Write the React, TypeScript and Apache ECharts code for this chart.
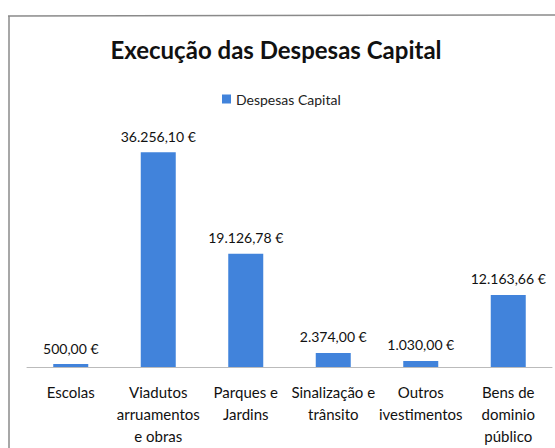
import React, { useEffect, useRef } from "react";
import * as echarts from "echarts";

const categories = [
  "Escolas",
  "Viadutos\narruamentos\ne obras",
  "Parques e\nJardins",
  "Sinalização e\ntrânsito",
  "Outros\nivestimentos",
  "Bens de\ndominio\npúblico",
];
const values = [500.0, 36256.1, 19126.78, 2374.0, 1030.0, 12163.66];
const seriesName = "Despesas Capital";
const titleText = "Execução das Despesas Capital";

function fmt(v: number): string {
  const fixed = v.toFixed(2);
  const [intPart, dec] = fixed.split(".");
  const withDots = intPart.replace(/\B(?=(\d{3})+(?!\d))/g, ".");
  return withDots + "," + dec + " €";
}

const FONT = "Lato, 'Noto Sans', sans-serif";

export default function App() {
  const ref = useRef<HTMLDivElement>(null);
  useEffect(() => {
    if (!ref.current) return;
    const chart = echarts.init(ref.current, undefined, { renderer: "svg" });
    chart.setOption({
      animation: false,
      backgroundColor: "#ffffff",
      title: {
        text: titleText,
        left: 271,
        textAlign: "center",
        top: 32,
        textStyle: { fontFamily: FONT, fontWeight: "bold", fontSize: 24, color: "#111111" },
      },
      legend: {
        data: [seriesName],
        top: 87,
        left: 217,
        itemWidth: 9,
        itemHeight: 9,
        itemGap: 4,
        icon: "rect",
        textStyle: { fontFamily: FONT, fontSize: 14, color: "#222222" },
      },
      graphic: [
        {
          type: "line",
          shape: { x1: 8, y1: 16, x2: 555, y2: 15 },
          style: { stroke: "#8a8a8a", lineWidth: 1.5 },
        },
        {
          type: "line",
          shape: { x1: 9, y1: 16, x2: 9, y2: 448 },
          style: { stroke: "#8a8a8a", lineWidth: 1.5 },
        },
      ],
      grid: { left: 27, right: 3, top: 130, bottom: 81 },
      xAxis: {
        type: "category",
        data: categories,
        axisLine: { lineStyle: { color: "#bbbbbb", width: 1 } },
        axisTick: { show: false },
        axisLabel: {
          interval: 0,
          fontFamily: FONT,
          fontSize: 15,
          color: "#111111",
          lineHeight: 22,
          margin: 14,
        },
      },
      yAxis: {
        type: "value",
        min: 0,
        max: 40000,
        show: false,
        splitLine: { show: false },
      },
      series: [
        {
          name: seriesName,
          type: "bar",
          data: values,
          barWidth: "40%",
          itemStyle: { color: "#4183db" },
          label: {
            show: true,
            position: "top",
            distance: 9,
            fontFamily: FONT,
            fontSize: 14,
            color: "#111111",
            formatter: (p: any) => fmt(p.value),
          },
        },
      ],
    });
    return () => chart.dispose();
  }, []);
  return (
    <div
      ref={ref}
      style={{ position: "fixed", left: 0, top: 0, width: 555, height: 448 }}
    />
  );
}
